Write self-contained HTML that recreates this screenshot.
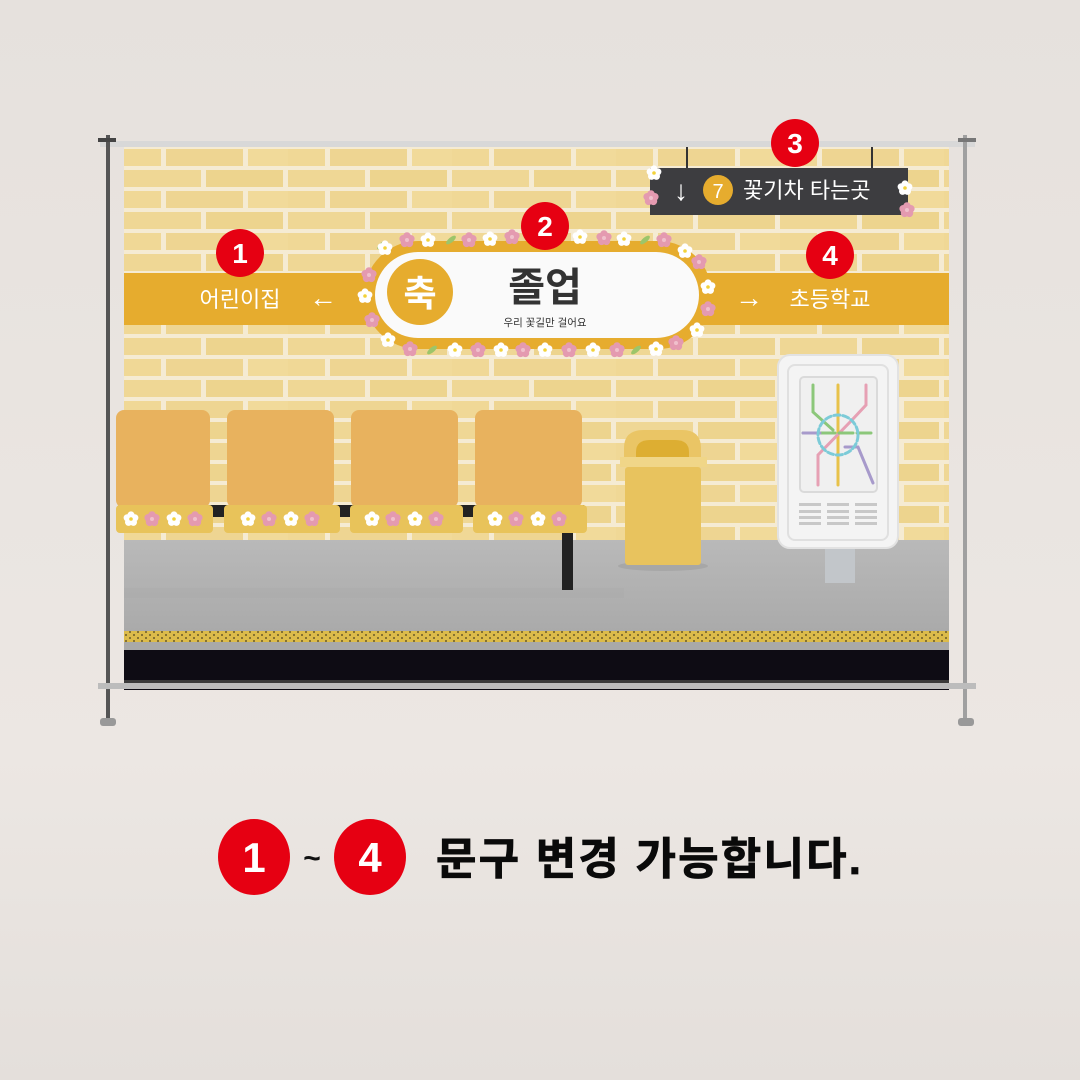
<!DOCTYPE html>
<html><head><meta charset="utf-8"><style>
html,body{margin:0;padding:0;width:1080px;height:1080px;overflow:hidden;background:#e8e3df}
svg{display:block}
text{font-family:"Liberation Sans","Noto Sans CJK KR",sans-serif}
</style></head><body>
<svg width="1080" height="1080" viewBox="0 0 1080 1080" xmlns="http://www.w3.org/2000/svg">
<defs>
<linearGradient id="bg" x1="0" y1="0" x2="0" y2="1">
<stop offset="0" stop-color="#e6e1dd"/><stop offset="0.7" stop-color="#ece7e3"/><stop offset="1" stop-color="#e4dfdb"/>
</linearGradient>
<pattern id="brick" x="124" y="147" width="164" height="42" patternUnits="userSpaceOnUse">
<rect width="164" height="42" fill="#f5ebd3"/>
<rect x="0" y="2" width="37" height="17" fill="#f0d896"/>
<rect x="42" y="2" width="77" height="17" fill="#eed592"/>
<rect x="124" y="2" width="40" height="17" fill="#f1da9a"/>
<rect x="0" y="23" width="77" height="17" fill="#efd795"/>
<rect x="82" y="23" width="77" height="17" fill="#edd48e"/>
</pattern>
<pattern id="dots" x="0" y="0" width="8" height="6" patternUnits="userSpaceOnUse">
<rect width="8" height="6" fill="#dcbb4a"/><circle cx="2" cy="2" r="1" fill="#6b5a2a"/><circle cx="6" cy="5" r="1" fill="#6b5a2a"/>
</pattern>
<linearGradient id="floor" x1="0" y1="0" x2="0" y2="1">
<stop offset="0" stop-color="#b9b9b9"/><stop offset="1" stop-color="#aaaaaa"/>
</linearGradient>
<g id="wf"><circle cx="0" cy="-4" r="3.6" fill="#fff"/><circle cx="3.8" cy="-1.2" r="3.6" fill="#fff"/><circle cx="2.4" cy="3.3" r="3.6" fill="#fff"/><circle cx="-2.4" cy="3.3" r="3.6" fill="#fff"/><circle cx="-3.8" cy="-1.2" r="3.6" fill="#fff"/><circle r="1.8" fill="#f2d23a"/></g>
<g id="pf"><circle cx="0" cy="-4" r="3.8" fill="#e49ab0"/><circle cx="3.8" cy="-1.2" r="3.8" fill="#e49ab0"/><circle cx="2.4" cy="3.3" r="3.8" fill="#e49ab0"/><circle cx="-2.4" cy="3.3" r="3.8" fill="#e49ab0"/><circle cx="-3.8" cy="-1.2" r="3.8" fill="#e49ab0"/><circle r="2" fill="#f0c0cc"/></g>
<g id="lf"><ellipse cx="0" cy="0" rx="6" ry="2.5" fill="#9cc56a" transform="rotate(-40)"/></g>
</defs>
<rect width="1080" height="1080" fill="url(#bg)"/>

<!-- frame -->
<rect x="100" y="141" width="875" height="6" fill="#d8d8d8"/>
<rect x="106" y="135" width="4" height="590" fill="#555"/>
<rect x="963" y="135" width="4" height="590" fill="#a0a0a0"/>
<rect x="98" y="138" width="18" height="4" fill="#444"/>
<rect x="958" y="138" width="18" height="4" fill="#777"/>
<rect x="100" y="718" width="16" height="8" rx="3" fill="#999"/>
<rect x="958" y="718" width="16" height="8" rx="3" fill="#999"/>

<!-- banner wall -->
<rect x="124" y="147" width="825" height="395" fill="url(#brick)"/>
<rect x="124" y="540" width="825" height="92" fill="url(#floor)"/>
<rect x="124" y="588" width="500" height="10" fill="#a9a9a9" opacity="0.4"/>
<rect x="124" y="631" width="825" height="11" fill="url(#dots)"/>
<rect x="124" y="642" width="825" height="8" fill="#a9a9a9"/>
<rect x="124" y="650" width="825" height="40" fill="#0e0c14"/>
<rect x="124" y="680" width="825" height="3" fill="#3a3a3a"/>
<rect x="98" y="683" width="878" height="6" fill="#bcbcbc"/>

<!-- yellow bands -->
<rect x="124" y="273" width="250" height="52" fill="#e6ac2e"/>
<rect x="700" y="273" width="249" height="52" fill="#e6ac2e"/>
<text x="240" y="307" font-size="22" fill="#fff" text-anchor="middle">어린이집</text>
<text x="323" y="307" font-size="28" fill="#fff" text-anchor="middle">←</text>
<text x="749" y="307" font-size="28" fill="#fff" text-anchor="middle">→</text>
<text x="830" y="307" font-size="22" fill="#fff" text-anchor="middle">초등학교</text>

<!-- center pill -->
<rect x="364" y="241" width="348" height="108" rx="54" fill="#e6ac2e"/>
<rect x="375" y="252" width="324" height="86" rx="43" fill="#fafafa"/>
<circle cx="420" cy="292" r="33" fill="#e6ac2e"/>
<text x="420" y="306" font-size="36" font-weight="bold" fill="#fff" text-anchor="middle">축</text>
<text x="545" y="301" font-size="40" font-weight="bold" fill="#333" text-anchor="middle">졸업</text>
<text x="545" y="326" font-size="10.5" fill="#333" text-anchor="middle">우리 꽃길만 걸어요</text>
<g>
<use href="#lf" x="382" y="245"/><use href="#wf" x="385" y="248"/><use href="#pf" x="407" y="240"/><use href="#wf" x="428" y="240"/><use href="#lf" x="451" y="240"/><use href="#pf" x="469" y="240"/><use href="#wf" x="490" y="239"/><use href="#pf" x="512" y="237"/><use href="#wf" x="580" y="237"/><use href="#pf" x="604" y="238"/><use href="#wf" x="624" y="239"/><use href="#lf" x="645" y="240"/><use href="#pf" x="664" y="240"/><use href="#wf" x="685" y="251"/><use href="#pf" x="699" y="262"/><use href="#wf" x="708" y="287"/><use href="#pf" x="708" y="309"/><use href="#wf" x="697" y="330"/><use href="#pf" x="676" y="343"/><use href="#wf" x="656" y="349"/><use href="#lf" x="636" y="350"/><use href="#pf" x="617" y="350"/><use href="#wf" x="593" y="350"/><use href="#pf" x="569" y="350"/><use href="#wf" x="545" y="350"/><use href="#pf" x="523" y="350"/><use href="#wf" x="501" y="350"/><use href="#pf" x="478" y="350"/><use href="#wf" x="455" y="350"/><use href="#lf" x="432" y="350"/><use href="#pf" x="410" y="349"/><use href="#wf" x="388" y="340"/><use href="#pf" x="372" y="320"/><use href="#wf" x="365" y="296"/><use href="#pf" x="369" y="275"/>
</g>

<!-- hanging sign -->
<rect x="686" y="147" width="2" height="22" fill="#333"/>
<rect x="871" y="147" width="2" height="22" fill="#333"/>
<rect x="650" y="168" width="258" height="47" fill="#3d3d40"/>
<text x="681" y="200" font-size="28" fill="#fff" text-anchor="middle">↓</text>
<circle cx="718" cy="190" r="15" fill="#e6ac2e"/>
<text x="718" y="198" font-size="20" fill="#fff" text-anchor="middle">7</text>
<text x="743" y="198" font-size="22" fill="#fff">꽃기차 타는곳</text>
<use href="#wf" x="654" y="173"/><use href="#pf" x="651" y="198"/><use href="#wf" x="905" y="188"/><use href="#pf" x="907" y="210"/>

<!-- seats -->
<g fill="#e8b25e">
<rect x="116" y="410" width="94" height="98" rx="8"/>
<rect x="227" y="410" width="107" height="98" rx="8"/>
<rect x="351" y="410" width="107" height="98" rx="8"/>
<rect x="475" y="410" width="107" height="98" rx="8"/>
</g>
<rect x="124" y="505" width="460" height="12" fill="#222"/>
<g fill="#e8c35a">
<rect x="116" y="505" width="97" height="28" rx="4"/>
<rect x="224" y="505" width="116" height="28" rx="4"/>
<rect x="350" y="505" width="113" height="28" rx="4"/>
<rect x="473" y="505" width="114" height="28" rx="4"/>
</g>
<rect x="562" y="533" width="11" height="57" fill="#222"/>
<g>
<use href="#wf" x="131" y="519"/><use href="#pf" x="152" y="519"/><use href="#wf" x="174" y="519"/><use href="#pf" x="195" y="519"/>
<use href="#wf" x="248" y="519"/><use href="#pf" x="269" y="519"/><use href="#wf" x="291" y="519"/><use href="#pf" x="312" y="519"/>
<use href="#wf" x="372" y="519"/><use href="#pf" x="393" y="519"/><use href="#wf" x="415" y="519"/><use href="#pf" x="436" y="519"/>
<use href="#wf" x="495" y="519"/><use href="#pf" x="516" y="519"/><use href="#wf" x="538" y="519"/><use href="#pf" x="559" y="519"/>
</g>

<!-- trash -->
<ellipse cx="663" cy="566" rx="45" ry="5" fill="#9a9a9a" opacity="0.5"/>
<path d="M624 460 V448 Q624 430 644 430 H682 Q701 430 701 448 V460 Z" fill="#eac565"/>
<path d="M636 460 V452 Q636 440 650 440 H675 Q689 440 689 452 V460 Z" fill="#ddae32"/>
<rect x="620" y="457" width="87" height="10" fill="#f0d688"/>
<rect x="625" y="467" width="76" height="98" rx="3" fill="#e8c35e"/>

<!-- kiosk -->
<rect x="825" y="545" width="30" height="38" fill="#c2c6ca"/>
<rect x="778" y="355" width="120" height="193" rx="12" fill="#f4f4f4" stroke="#e2e2e2" stroke-width="2"/>
<rect x="788" y="365" width="100" height="175" rx="7" fill="none" stroke="#e0e0e0" stroke-width="2"/>
<rect x="800" y="377" width="77" height="115" rx="4" fill="#f0f0f0" stroke="#dadada" stroke-width="2"/>
<g fill="none" stroke-width="3" stroke-linecap="round">
<path d="M813 385 V412 L833 430" stroke="#8cc77a"/>
<path d="M838 385 V485" stroke="#e8c24a"/>
<path d="M866 385 V405 L852 420 L818 455 V485" stroke="#e6a0b4"/>
<path d="M803 433 H872" stroke="#8cc77a" stroke-dasharray="14 4"/>
<path d="M803 433 H820 M845 447 H858 L873 483" stroke="#a79acb"/>
<circle cx="838" cy="435" r="20" stroke="#7ccbd8" stroke-dasharray="6 3"/>
</g>
<g fill="#c8c8c8">
<rect x="799" y="503" width="22" height="3"/><rect x="827" y="503" width="22" height="3"/><rect x="855" y="503" width="22" height="3"/>
<rect x="799" y="510" width="22" height="3"/><rect x="827" y="510" width="22" height="3"/><rect x="855" y="510" width="22" height="3"/>
<rect x="799" y="516" width="22" height="3"/><rect x="827" y="516" width="22" height="3"/><rect x="855" y="516" width="22" height="3"/>
<rect x="799" y="522" width="22" height="3"/><rect x="827" y="522" width="22" height="3"/><rect x="855" y="522" width="22" height="3"/>
</g>

<!-- red markers -->
<g fill="#e60012">
<circle cx="240" cy="253" r="24"/><circle cx="545" cy="226" r="24"/><circle cx="795" cy="143" r="24"/><circle cx="830" cy="255" r="24"/>
</g>
<g fill="#fff" font-size="28" font-weight="bold" text-anchor="middle">
<text x="240" y="263">1</text><text x="545" y="236">2</text><text x="795" y="153">3</text><text x="830" y="265">4</text>
</g>

<!-- bottom caption -->
<ellipse cx="254" cy="857" rx="36" ry="38" fill="#e60012"/>
<ellipse cx="370" cy="857" rx="36" ry="38" fill="#e60012"/>
<text x="254" y="872" font-size="42" font-weight="bold" fill="#fff" text-anchor="middle">1</text>
<text x="370" y="872" font-size="42" font-weight="bold" fill="#fff" text-anchor="middle">4</text>
<text x="312" y="868" font-size="30" font-weight="bold" fill="#111" text-anchor="middle">~</text>
<text x="436" y="874" font-size="44" font-weight="bold" fill="#0a0a0a" stroke="#0a0a0a" stroke-width="0.8" textLength="425">문구 변경 가능합니다.</text>
</svg>
</body></html>
